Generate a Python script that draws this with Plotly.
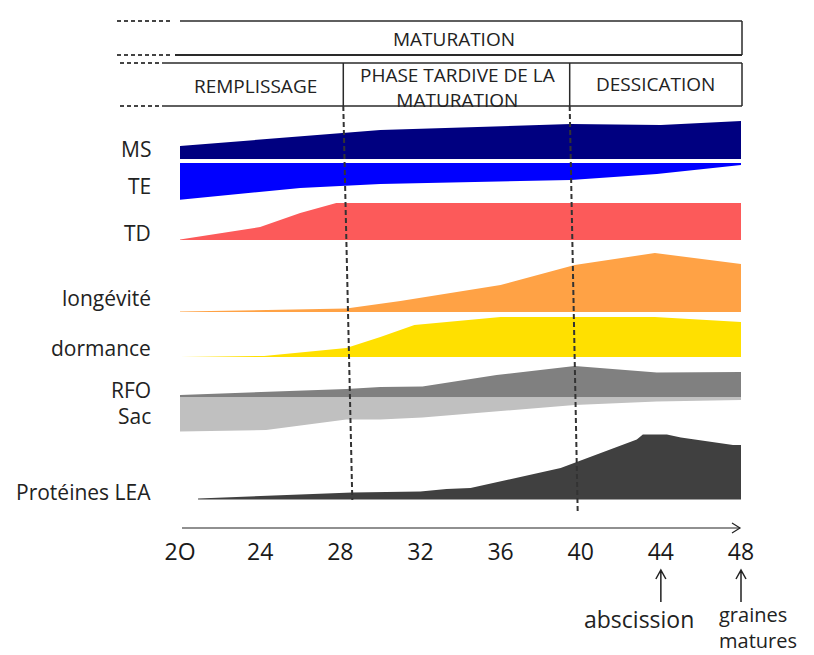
import plotly.graph_objects as go

# ---------------- data ----------------
tick_vals = [20, 24, 28, 32, 36, 40, 44, 48]
tick_text = ["2O", "24", "28", "32", "36", "40", "44", "48"]

ms_x = [20, 24.5, 28.2, 30, 39.5, 44, 48]
ms_v = [13, 20, 26, 29, 35, 34, 38]
te_x = [19.9, 26, 30, 39.5, 43.8, 48]
te_v = [37, 25, 21, 17, 11, 2]
td_x = [20, 24, 26, 27.8, 48]
td_v = [0.5, 13, 27, 37, 37]
lon_x = [20, 28.3, 31, 31.3, 36, 39.7, 43.7, 48]
lon_v = [0.5, 3.5, 11, 12, 27, 47, 59, 48]
dor_x = [20, 24.2, 28.3, 30, 31.7, 36, 43.7, 48]
dor_v = [0, 1, 9, 20, 32, 40, 40, 35]
rfo_x = [20, 28.3, 30, 32.1, 35.8, 39.7, 43.8, 48]
rfo_v = [2.5, 8.5, 10.5, 11, 22.5, 31.5, 25, 25.5]
sac_x = [20, 24.3, 28.3, 30, 32.1, 39.7, 43.8, 48]
sac_v = [34, 32.5, 22, 22, 20, 7.5, 4, 2.5]
lea_x = [20.9, 24.8, 26.6, 28.6, 32, 33.3, 34.5, 36.6, 39, 39.8, 42.8, 43.1, 44.3, 45, 46.4, 47.6, 48]
lea_v = [1, 4, 5, 7, 8, 10.5, 11.5, 20.5, 31.5, 37.5, 60, 65, 65, 62, 58, 54.5, 54.5]

labels = ["MS", "TE", "TD", "longévité", "dormance", "RFO", "Sac", "Protéines LEA"]
top_title = "MATURATION"
phases = ["REMPLISSAGE", "PHASE TARDIVE DE LA<br>MATURATION", "DESSICATION"]
phase_bounds = [20, 28.15, 39.45, 48]
events = ["abscission", "graines<br>matures"]
event_days = [44, 48]

# ---------------- layout / style ----------------
W, H = 814, 655
ML, MR, MT, MB = 180, 73, 0, 127
PW, PH = W - ML - MR, H - MT - MB
FONT = "'Open Sans', Lato, sans-serif"
TXT = "#222222"

series = [
    (ms_x, ms_v, 159, 1, "#000080", 149),
    (te_x, te_v, 163, -1, "#0000FF", 186),
    (td_x, td_v, 240, 1, "#FC5A5A", 233),
    (lon_x, lon_v, 312, 1, "#FFA245", 298),
    (dor_x, dor_v, 357, 1, "#FFE000", 348),
    (rfo_x, rfo_v, 397.5, 1, "#808080", 390),
    (sac_x, sac_v, 397.5, -1, "#C0C0C0", 416),
    (lea_x, lea_v, 499.5, 1, "#404040", 492),
]


def xp(day):
    return (day - 20) / 28.0


def xpx(px):
    return (px - ML) / PW


def yp(px):
    return (PH - px) / PH


fig = go.Figure()
for xs, vs, base, sign, color, _ in series:
    edge = [base - sign * v for v in vs]
    fig.add_trace(go.Scatter(
        x=list(xs) + list(xs)[::-1],
        y=edge + [base] * len(xs),
        mode="lines", fill="toself", fillcolor=color,
        line=dict(width=0, color=color),
        hoverinfo="skip", showlegend=False))

shapes = []
ann = []
LC = "#2a2a2a"


def line(x0, y0, x1, y1, color=LC, width=1.5, dash=None):
    d = dict(type="line", xref="paper", yref="paper", x0=x0, y0=y0, x1=x1, y1=y1,
             line=dict(color=color, width=width))
    if dash:
        d["line"]["dash"] = dash
    shapes.append(d)


# header: MATURATION box
line(xp(20), yp(21), xp(48.05), yp(21))
line(xpx(175), yp(55), xp(48.05), yp(55), width=2.2)
line(xp(48.05), yp(21), xp(48.05), yp(55))
# header: phases box
line(xpx(162), yp(63), xp(48.05), yp(63))
line(xpx(162), yp(106), xp(48.05), yp(106))
line(xp(48.05), yp(63), xp(48.05), yp(106))
for b in phase_bounds[1:3]:
    line(xp(b), yp(63), xp(b), yp(106))
# left dashed stubs
for (a, b, yy) in [(117, 173, 21), (117, 173, 55), (120, 162, 63), (120, 162, 106)]:
    line(xpx(a), yp(yy), xpx(b), yp(yy), color="#444", width=2, dash="4px,3px")
# vertical dashed phase lines
line(xp(28.15), yp(106), xp(28.6), yp(500), color="#333", width=2, dash="5px,3px")
line(xp(39.45), yp(106), xp(39.85), yp(513), color="#333", width=2, dash="5px,3px")

# time axis with open arrow head
line(xpx(182), yp(528), xp(48) - 0.002, yp(528), color="#222", width=1.2)
shapes.append(dict(type="path", xref="paper", yref="paper", xsizemode="pixel", ysizemode="pixel",
                   xanchor=xpx(740), yanchor=yp(528), path="M-8,5 L0,0 L-8,-5",
                   line=dict(color="#222", width=1.2)))
# event arrows
for d in event_days:
    shapes.append(dict(type="path", xref="paper", yref="paper", xsizemode="pixel", ysizemode="pixel",
                       xanchor=xp(d), yanchor=yp(570), path="M0,0 L0,-32 M-5,-9 L0,0 L5,-9",
                       line=dict(color="#222", width=1.5)))


def text(t, x, y, size, xanchor="center", xshift=0, align="center"):
    ann.append(dict(text=t, x=x, y=y, xref="paper", yref="paper", xanchor=xanchor,
                    yanchor="middle", xshift=xshift, align=align, showarrow=False,
                    borderpad=0, font=dict(size=size, color=TXT, family=FONT)))


# header texts
text(top_title, xp(33.7), yp(39), 19)
phase_pos = [(23.75, 86), (33.85, 88), (43.75, 84)]
for t, (px_, py_) in zip(phases, phase_pos):
    text(t, xp(px_), yp(py_), 19)

# row labels
for lab, s in zip(labels, series):
    text(lab, 0, yp(s[5]), 21, xanchor="right", xshift=-28)

# event texts
text(events[0], xp(event_days[0]), yp(619), 23, xanchor="left", xshift=-78)
text(events[1], xp(event_days[1]), yp(627), 20, xanchor="left", xshift=-23, align="left")

fig.update_layout(
    width=W, height=H, autosize=False,
    margin=dict(l=ML, r=MR, t=MT, b=MB, pad=0),
    paper_bgcolor="white", plot_bgcolor="white",
    shapes=shapes, annotations=ann,
    xaxis=dict(range=[20, 48], showgrid=False, zeroline=False, showline=False,
               tickvals=tick_vals, ticktext=tick_text, ticks="",
               tickfont=dict(size=23, color="#1a1a1a", family=FONT), ticklabelstandoff=8,
               fixedrange=True),
    yaxis=dict(range=[PH, 0], visible=False, fixedrange=True),
)

fig.write_html("out.html", config={"displayModeBar": False},
               post_script="document.body.style.margin='0px';")
